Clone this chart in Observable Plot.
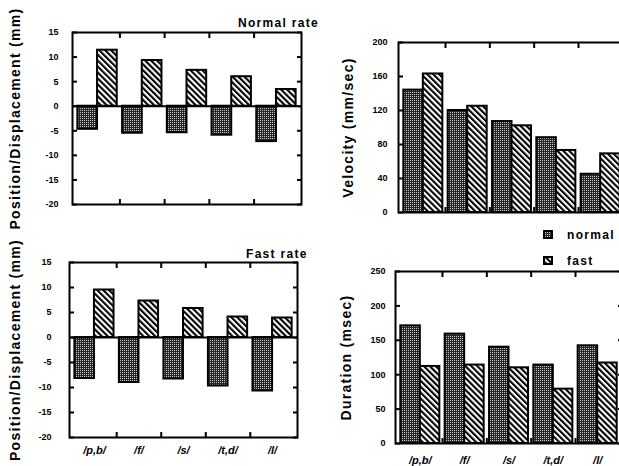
<!DOCTYPE html>
<html><head><meta charset="utf-8">
<script src="https://cdn.jsdelivr.net/npm/d3@7"></script>
<script src="https://cdn.jsdelivr.net/npm/@observablehq/plot@0.6"></script>
<style>
html,body{margin:0;padding:0;background:#fff;}
#fig{position:relative;width:619px;height:466px;overflow:hidden;font-family:"Liberation Sans",Arial,sans-serif;font-weight:bold;color:#000;background:#fff;}
.title{position:absolute;font-size:12px;line-height:12px;letter-spacing:1.3px;white-space:nowrap;}
.sw{position:absolute;}
</style></head><body>
<svg width="0" height="0" style="position:absolute">
  <defs>
    <pattern id="dots" width="2" height="2" patternUnits="userSpaceOnUse">
      <rect width="2" height="2" fill="#262626"/>
      <rect width="1" height="1" fill="#c8c8c8"/>
    </pattern>
    <pattern id="hatch" width="4.2" height="4.2" patternUnits="userSpaceOnUse" patternTransform="rotate(-45)">
      <rect width="4.2" height="4.2" fill="#fff"/>
      <rect width="2.1" height="4.2" fill="#000"/>
    </pattern>
  </defs>
</svg>
<div id="fig">
  <div class="title" style="left:238px;top:17px">Normal rate</div>
  <div class="title" style="left:246px;top:248px">Fast rate</div>
  <svg class="sw" style="left:543px;top:230px" width="10" height="9"><rect x="1" y="1" width="8" height="7" fill="url(#dots)" stroke="#000" stroke-width="2"/></svg>
  <div class="title" style="left:567px;top:229px">normal</div>
  <svg class="sw" style="left:543px;top:256px" width="10" height="9"><rect x="1" y="1" width="8" height="7" fill="url(#hatch)" stroke="#000" stroke-width="2"/></svg>
  <div class="title" style="left:567px;top:255px">fast</div>
</div>
<script>
// Categories (phonemes)
const categories = ["/p,b/", "/f/", "/s/", "/t,d/", "/l/"];
// Position / displacement (mm), normal rate
const normalRatePosition = [-4.7, -5.5, -5.4, -5.9, -7.2];
const normalRateDisplacement = [11.4, 9.3, 7.3, 6.0, 3.4];
// Position / displacement (mm), fast rate
const fastRatePosition = [-8.2, -9.0, -8.3, -9.7, -10.7];
const fastRateDisplacement = [9.5, 7.3, 5.8, 4.1, 3.9];
// Velocity (mm/sec)
const velocityNormal = [144, 120, 107, 88, 45];
const velocityFast = [163, 125, 102, 73, 69];
// Duration (msec)
const durationNormal = [171, 159, 140, 114, 142];
const durationFast = [112, 114, 110, 79, 117];
// Tick values
const posTicks = [15, 10, 5, 0, -5, -10, -15, -20];
const velTicks = [0, 40, 80, 120, 160, 200];
const durTicks = [0, 50, 100, 150, 200, 250];

const fig = document.getElementById("fig");

function panel(o) {
  const xOpts = {type: "band", domain: categories, padding: 0.12, round: false};
  const xs = Plot.scale({x: {...xOpts, range: [o.ml, o.width - o.mr]}});
  const bw = xs.bandwidth, step = xs.step;
  const rows = (vals) => categories.map((c, i) => ({cat: c, value: vals[i]}));
  const marks = [
    Plot.barY(rows(o.a), {x: "cat", y: "value", fill: "url(#dots)", stroke: "#000", strokeWidth: 2, insetRight: bw / 2}),
    Plot.barY(rows(o.b), {x: "cat", y: "value", fill: "url(#hatch)", stroke: "#000", strokeWidth: 2, insetLeft: bw / 2})
  ];
  if (o.zero) marks.push(Plot.ruleY([0], {stroke: "#000", strokeWidth: 2}));
  marks.push(
    Plot.axisY(o.ticks, {anchor: "left", tickSize: 0, tickPadding: o.tickPad, fontSize: 9, fontWeight: "bold", label: null, tickFormat: d => String(d)}),
    Plot.axisY(o.ticks, {anchor: "left", tickSize: -5, fill: "none", strokeWidth: 2, label: null}),
    Plot.axisY(o.ticks, {anchor: "right", tickSize: -5, fill: "none", strokeWidth: 2, label: null}),
    Plot.axisX(categories.slice(0, -1), {anchor: "top", tickSize: -5, fill: "none", strokeWidth: 2, dx: step / 2, label: null}),
    Plot.axisX(categories.slice(0, -1), {anchor: "bottom", tickSize: -5, fill: "none", strokeWidth: 2, dx: step / 2, label: null}),
    Plot.text([o.label], {text: d => d, frameAnchor: "left", textAnchor: "middle", rotate: -90, dx: o.labelDx, fontSize: 14, fontWeight: "bold"}),
    Plot.frame({stroke: "#000", strokeWidth: 2})
  );
  if (o.showX) marks.push(Plot.axisX({anchor: "bottom", tickSize: 0, tickPadding: o.xPad, fontSize: 11, fontWeight: "bold", fontStyle: "italic", label: null}));
  const svg = Plot.plot({
    width: o.width, height: o.height,
    marginLeft: o.ml, marginRight: o.mr, marginTop: o.mt, marginBottom: o.mb,
    x: xOpts,
    y: {domain: o.domain},
    style: {position: "absolute", left: o.left + "px", top: o.top + "px", fontFamily: "Liberation Sans, Arial, sans-serif", fontWeight: "bold", background: "transparent", overflow: "visible", color: "#000"},
    marks
  });
  svg.querySelectorAll('g[aria-label="text"] text').forEach(t => t.style.letterSpacing = "1.3px");
  fig.appendChild(svg);
}

panel({a: normalRatePosition, b: normalRateDisplacement, domain: [-20, 15], ticks: posTicks,
  left: 0, top: 0, width: 310, height: 215, ml: 72, mr: 9, mt: 32, mb: 11,
  tickPad: 14, label: "Position/Displacement (mm)", labelDx: -57, zero: true, showX: false});
panel({a: fastRatePosition, b: fastRateDisplacement, domain: [-20, 15], ticks: posTicks,
  left: 0, top: 230, width: 310, height: 236, ml: 69, mr: 13, mt: 32, mb: 29,
  tickPad: 18, label: "Position/Displacement (mm)", labelDx: -54, zero: true, showX: true, xPad: 9});
panel({a: velocityNormal, b: velocityFast, domain: [0, 200], ticks: velTicks,
  left: 310, top: 0, width: 330, height: 225, ml: 88, mr: 15, mt: 42, mb: 13,
  tickPad: 11, label: "Velocity (mm/sec)", labelDx: -50, zero: false, showX: false});
panel({a: durationNormal, b: durationFast, domain: [0, 250], ticks: durTicks,
  left: 310, top: 230, width: 330, height: 236, ml: 85, mr: 18, mt: 41, mb: 23,
  tickPad: 10, label: "Duration (msec)", labelDx: -49, zero: false, showX: true, xPad: 13});
</script>
</body></html>
